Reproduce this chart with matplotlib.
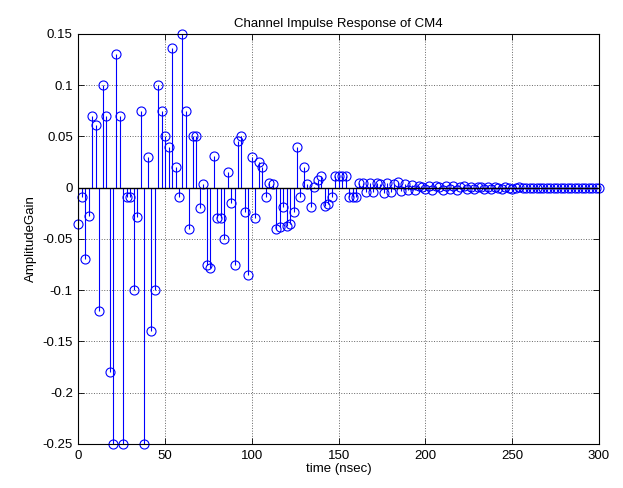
import numpy as np
import matplotlib
matplotlib.use('Agg')
import matplotlib.pyplot as plt

plt.rcParams['font.family'] = ['Liberation Sans', 'DejaVu Sans']

# sample times (nsec), 2 ns step
time_ns = np.arange(0, 301, 2)

# channel taps
gain = [
    -0.035, -0.009, -0.070, -0.028, 0.070, 0.061, -0.120, 0.100, 0.070, -0.180,
    -0.250, 0.130, 0.070, -0.250, -0.009, -0.009, -0.100, -0.029, 0.075, -0.250,
    0.030, -0.140, -0.100, 0.100, 0.075, 0.050, 0.040, 0.136, 0.020, -0.009,
    0.150, 0.075, -0.040, 0.050, 0.050, -0.020, 0.004, -0.075, -0.078, 0.031,
    -0.030, -0.030, -0.050, 0.015, -0.015, -0.075, 0.046, 0.050, -0.024, -0.085,
    0.030, -0.030, 0.025, 0.020, -0.009, 0.005, 0.004, -0.040, -0.038, -0.019,
    -0.037, -0.035, -0.024, 0.040, -0.009, 0.020, 0.004, -0.019, 0.001, 0.008,
    0.011, -0.018, -0.016, -0.009, 0.011, 0.011, 0.011, 0.011, -0.009, -0.009,
    -0.009, 0.005, 0.005, -0.004, 0.005, -0.004, 0.005, 0.004, -0.005, 0.005,
    -0.004, 0.004, 0.006, -0.003, 0.004, -0.002, 0.003, -0.002, 0.002, 0.001,
    -0.001, 0.002, -0.002, 0.002, 0.001, -0.002, 0.002, -0.001, 0.002, -0.002,
    0.001, 0.002, -0.001, 0.001, -0.001, 0.001, 0.001, -0.001, 0.001, -0.001,
    0.001, 0.000, -0.001, 0.001, 0.000, -0.001, 0.000, 0.001, 0.000, 0.000,
    0.000, 0.000, 0.000, 0.000, 0.000, 0.000, 0.000, 0.000, 0.000, 0.000,
    0.000, 0.000, 0.000, 0.000, 0.000, 0.000, 0.000, 0.000, 0.000, 0.000,
    0.000,
]

x_ticks = [0, 50, 100, 150, 200, 250, 300]
y_ticks = [-0.25, -0.2, -0.15, -0.1, -0.05, 0, 0.05, 0.1, 0.15]
y_tick_labels = ['-0.25', '-0.2', '-0.15', '-0.1', '-0.05', '0', '0.05', '0.1', '0.15']

fig = plt.figure(figsize=(6.23, 4.88), dpi=100)
ax = fig.add_axes([0.1257, 0.0902, 0.8358, 0.8402])

markerline, stemlines, baseline = ax.stem(time_ns, gain, linefmt='b-', markerfmt='bo', basefmt='k-')
markerline.set_markerfacecolor('none')
markerline.set_markeredgecolor('blue')
markerline.set_markersize(6.5)
markerline.set_markeredgewidth(0.8)
markerline.set_clip_on(False)
stemlines.set_linewidth(0.8)
baseline.set_linewidth(1.0)

ax.set_xlim(0, 300)
ax.set_ylim(-0.25, 0.15)
ax.set_xticks(x_ticks)
ax.set_yticks(y_ticks)
ax.set_yticklabels(y_tick_labels)
ax.tick_params(direction='in', top=True, right=True, length=4, labelsize=9.5, width=0.6, pad=4)
ax.grid(True, linestyle=':', color='#666666', linewidth=0.7)
for sp in ax.spines.values():
    sp.set_linewidth(0.8)

ax.set_title('Channel Impulse Response of CM4', fontsize=9.5, pad=5)
ax.set_xlabel('time (nsec)', fontsize=9.5, labelpad=1)
ax.set_ylabel('AmplitudeGain', fontsize=9.5, labelpad=4)

fig.savefig('out.png', dpi=100)
